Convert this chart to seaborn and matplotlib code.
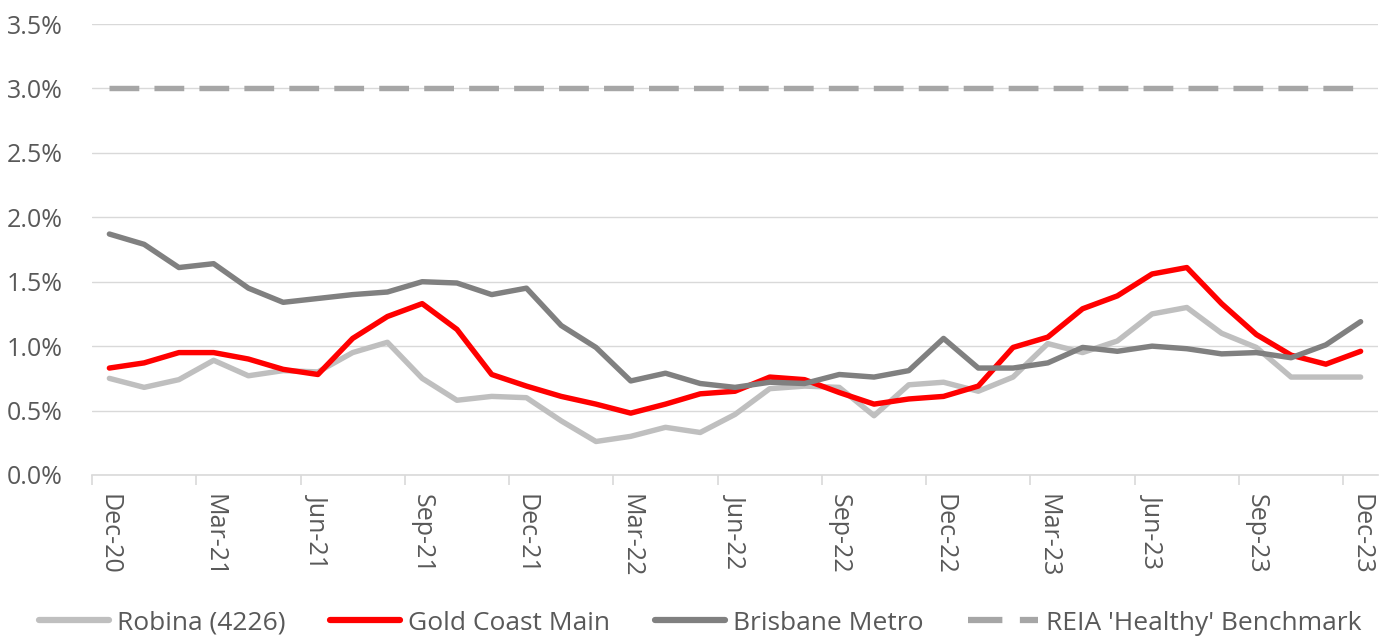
import numpy as np
import pandas as pd
import matplotlib
matplotlib.use("Agg")
import matplotlib.pyplot as plt
import seaborn as sns

months = pd.date_range("2020-12-01", "2023-12-01", freq="MS")
month_labels = [d.strftime("%b-%y") for d in months]

robina = [0.75, 0.68, 0.74, 0.89, 0.77, 0.81, 0.80, 0.95, 1.03, 0.75, 0.58, 0.61, 0.60,
          0.42, 0.26, 0.30, 0.37, 0.33, 0.47, 0.67, 0.69, 0.68, 0.46, 0.70, 0.72,
          0.65, 0.76, 1.02, 0.95, 1.04, 1.25, 1.30, 1.10, 0.99, 0.76, 0.76, 0.76]
gold_coast = [0.83, 0.87, 0.95, 0.95, 0.90, 0.82, 0.78, 1.06, 1.23, 1.33, 1.13, 0.78, 0.69,
              0.61, 0.55, 0.48, 0.55, 0.63, 0.65, 0.76, 0.74, 0.64, 0.55, 0.59, 0.61,
              0.69, 0.99, 1.07, 1.29, 1.39, 1.56, 1.61, 1.33, 1.09, 0.93, 0.86, 0.96]
brisbane = [1.87, 1.79, 1.61, 1.64, 1.45, 1.34, 1.37, 1.40, 1.42, 1.50, 1.49, 1.40, 1.45,
            1.16, 0.99, 0.73, 0.79, 0.71, 0.68, 0.72, 0.71, 0.78, 0.76, 0.81, 1.06,
            0.83, 0.83, 0.87, 0.99, 0.96, 1.00, 0.98, 0.94, 0.95, 0.91, 1.01, 1.19]
benchmark = [3.0] * len(months)

series_names = ["Robina (4226)", "Gold Coast Main", "Brisbane Metro", "REIA 'Healthy' Benchmark"]
series_values = [robina, gold_coast, brisbane, benchmark]
colors = ["#BFBFBF", "#FF0000", "#808080", "#A6A6A6"]

y_ticks = [0.0, 0.5, 1.0, 1.5, 2.0, 2.5, 3.0, 3.5]

sns.set_theme(style="white")
plt.rcParams["font.family"] = ["Open Sans", "DejaVu Sans"]

W, H = 1384, 637
fig = plt.figure(figsize=(W / 100, H / 100), dpi=100)
ax_left, ax_right, ax_top, ax_bottom = 92, 1378, 24, 475
ax = fig.add_axes([ax_left / W, 1 - ax_bottom / H, (ax_right - ax_left) / W, (ax_bottom - ax_top) / H])

x = np.arange(len(months))
for name, vals, col in zip(series_names, series_values, colors):
    df = pd.DataFrame({"x": x, "y": vals})
    dashed = name.startswith("REIA")
    sns.lineplot(data=df, x="x", y="y", ax=ax, color=col, linewidth=3.9,
                 label=name, solid_capstyle="round",
                 linestyle=(0, (5.5, 2.8)) if dashed else "-")
    if dashed:
        ax.lines[-1].set_dash_capstyle("butt")

ax.set_ylim(0, 3.5)
ax.set_xlim(-0.5, len(months) - 0.5)
ax.set_yticks(y_ticks)
ax.set_yticklabels([f"{v:.1f}%" for v in y_ticks], fontsize=18, color="#595959")
tick_pos = x[::3]
ax.set_xticks(tick_pos)
ax.set_xticklabels([month_labels[i] for i in tick_pos], rotation=270, fontsize=18,
                   color="#595959", ha="center", va="top")
ax.set_xticks(tick_pos - 0.5, minor=True)
ax.set_xlabel("")
ax.set_ylabel("")
ax.grid(axis="y", color="#D9D9D9", linewidth=1)
ax.set_axisbelow(True)
for s in ["top", "right", "left"]:
    ax.spines[s].set_visible(False)
ax.spines["bottom"].set_color("#D9D9D9")
ax.spines["bottom"].set_linewidth(1.2)
ax.tick_params(axis="x", which="major", length=0, pad=14)
ax.tick_params(axis="x", which="minor", length=7, color="#D9D9D9", width=1.2,
               direction="out", bottom=True)
ax.tick_params(axis="y", length=0, pad=21)

handles, labels = ax.get_legend_handles_labels()
ax.get_legend().remove()
leg = fig.legend(handles, labels, loc="center", bbox_to_anchor=(700 / W, 1 - 623 / H),
                 ncol=4, frameon=False, fontsize=19, handlelength=2.65,
                 columnspacing=1.7, handletextpad=0.3, labelcolor="#595959",
                 borderaxespad=0, borderpad=0)
for line in leg.get_lines():
    line.set_linewidth(4.5)

fig.savefig("out.png", dpi=100, facecolor="white")
